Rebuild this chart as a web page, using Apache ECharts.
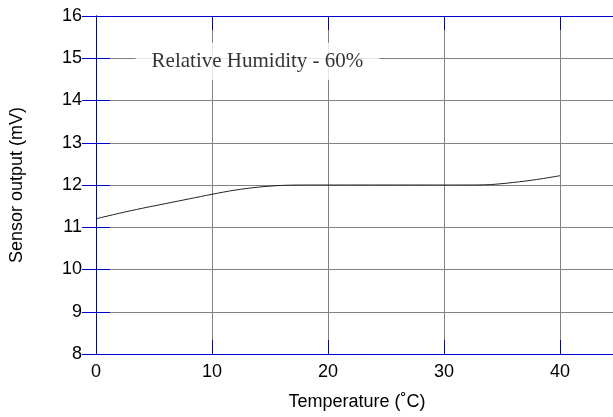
<!DOCTYPE html>
<html><head><meta charset="utf-8">
<script src="https://cdn.jsdelivr.net/npm/echarts@6/dist/echarts.min.js"></script>
<style>html,body{margin:0;padding:0;background:#fff}#c{width:613px;height:417px}</style>
</head><body><div id="c"></div>
<script>
const temps = [0, 2, 4, 6, 8, 10, 12, 14, 16, 18, 20, 22, 24, 26, 28, 30, 32, 34, 36, 38, 40];
const output = [11.2, 11.33, 11.45, 11.56, 11.67, 11.78, 11.88, 11.95, 11.99, 12.0, 12.0, 12.0, 12.0, 12.0, 12.0, 12.0, 12.0, 12.01, 12.06, 12.13, 12.22];
const xTickLabels = [0, 10, 20, 30, 40];
const annotationText = 'Relative Humidity - 60%';
const annotationPos = [13.92, 14.93];
const xTitle = 'Temperature (˚C)';
const yTitle = 'Sensor output (mV)';

const blue = '#0000cc';
const gray = '#808080';
const chart = echarts.init(document.getElementById('c'), null, {renderer: 'canvas'});
const tickStyle = {show: true, inside: true, length: 14, lineStyle: {color: blue, width: 1}};
const labelMax = xTickLabels[xTickLabels.length - 1];
chart.setOption({
  animation: false,
  grid: [
    {left: 96, width: 522, top: 16, bottom: 63, containLabel: false, outerBoundsMode: 'none'},
    {left: 96, width: 522 * labelMax / 45, top: 16, bottom: 63, containLabel: false, outerBoundsMode: 'none'}
  ],
  xAxis: [{
    gridIndex: 0, type: 'value', min: 0, max: 45, interval: 10, position: 'bottom',
    axisLine: {show: true, lineStyle: {color: blue, width: 1}},
    axisTick: tickStyle,
    splitLine: {show: true, lineStyle: {color: gray, width: 1}},
    axisLabel: {show: false},
    name: xTitle, nameLocation: 'middle', nameGap: 39,
    nameTextStyle: {color: '#000', fontFamily: 'Liberation Sans', fontSize: 18}
  }, {
    gridIndex: 0, type: 'value', min: 0, max: 45, interval: 10, position: 'top',
    axisLine: {show: true, lineStyle: {color: blue, width: 1}},
    axisTick: tickStyle, axisLabel: {show: false}, splitLine: {show: false}
  }, {
    gridIndex: 1, type: 'value', min: 0, max: labelMax, interval: 10, position: 'bottom',
    axisLine: {show: false}, axisTick: {show: false}, splitLine: {show: false},
    axisLabel: {color: '#000', fontFamily: 'Liberation Sans', fontSize: 18, margin: 9}
  }],
  yAxis: [{
    gridIndex: 0, type: 'value', min: 8, max: 16, interval: 1, position: 'left',
    axisLine: {show: true, lineStyle: {color: blue, width: 1}},
    axisTick: tickStyle,
    splitLine: {show: true, lineStyle: {color: gray, width: 1}},
    axisLabel: {color: '#000', fontFamily: 'Liberation Sans', fontSize: 18, margin: 14},
    name: yTitle, nameLocation: 'middle', nameGap: 70, nameRotate: 90,
    nameTextStyle: {color: '#000', fontFamily: 'Liberation Sans', fontSize: 18}
  }, {
    gridIndex: 0, type: 'value', min: 8, max: 16, interval: 1, position: 'right',
    axisLine: {show: true, lineStyle: {color: blue, width: 1}},
    axisTick: tickStyle, axisLabel: {show: false}, splitLine: {show: false}
  }, {
    gridIndex: 1, type: 'value', min: 8, max: 16, show: false
  }],
  series: [{
    type: 'line', xAxisIndex: 0, yAxisIndex: 0, smooth: 0.3, showSymbol: false,
    data: temps.map((t, i) => [t, output[i]]),
    lineStyle: {color: '#222', width: 1}
  }, {
    type: 'scatter', xAxisIndex: 0, yAxisIndex: 0, symbolSize: 0, silent: true,
    data: [annotationPos],
    label: {show: true, position: 'inside', formatter: annotationText,
      color: '#000', fontFamily: 'Liberation Serif', fontSize: 21,
      backgroundColor: '#fff', padding: [8, 16]}
  }]
});
</script></body></html>
